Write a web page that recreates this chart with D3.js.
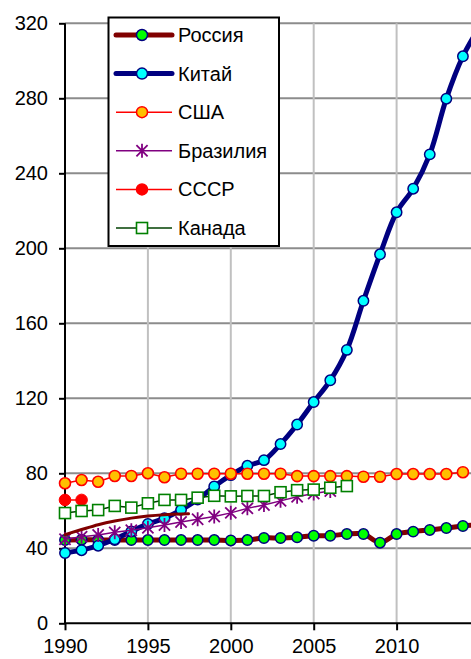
<!doctype html>
<html>
  <head>
    <meta charset="utf-8">
    <script src="https://cdn.jsdelivr.net/npm/d3@7/dist/d3.min.js"></script>
    <style>
      body { margin: 0; background: #fff; }
      svg { display: block; font-family: "Liberation Sans", Arial, sans-serif; }
    </style>
  </head>
  <body>
    <svg id="chart" width="471" height="659"></svg>

    <script>
      // values
      var years = d3.range(1990, 2016);
      var russia = [44.4, 44.6, 44.4, 44.4, 44.4, 44.4, 44.4, 44.4, 44.4, 44.4, 44.2, 44.4, 45.5, 45.5, 45.9, 46.7,
                    46.7, 47.6, 47.6, 43.0, 47.6, 48.9, 49.8, 50.8, 51.9, 52.5];
      var china = [37.5, 39, 41.4, 44.8, 49, 53, 56, 60.5, 66, 73, 79, 84, 87, 95.6, 106, 118,
                   129.6, 145.8, 172, 196.8, 219.2, 231.8, 250.1, 279.8, 302.4, 318];
      var usa = [74.7, 76.4, 75.5, 78.6, 78.6, 80, 77.9, 79.8, 79.8, 79.8, 79.8, 79.8, 79.8, 79.8, 78.5, 78.5,
                 78.5, 78.5, 78.2, 78.2, 79.6, 79.6, 79.6, 79.6, 80.6];
      var brazil = [44.8, 46.2, 47.1, 48.5, 49.6, 50.9, 52.4, 54, 55.5, 57, 58.9, 61.3, 63.1, 65.3, 67.5, 69.2, 70.5];
      var ussr = [65.8, 65.8];
      var canada = [58.8, 59.9, 60.4, 62.6, 61.7, 64, 65.8, 65.8, 67, 68, 67.7, 67.9, 67.9, 69.9, 71, 71.3, 72.3, 73.2];
      // unlabelled smooth curve (no markers)
      var trendYears = [1990, 1991, 1992, 1993, 1994, 1995, 1996, 1997, 1997.45];
      var trend = [47.3, 50, 52.6, 54.6, 56.1, 57.2, 57.9, 58.3, 58.4];

      var yTicks = [0, 40, 80, 120, 160, 200, 240, 280, 320];
      var xTicks = [1990, 1995, 2000, 2005, 2010];
      var xGrid = [1995, 2000, 2005, 2010, 2015];

      var names = ["Россия", "Китай", "США", "Бразилия", "СССР", "Канада"];

      var svg = d3.select("#chart");
      var plotLeft = 65, plotTop = 23.3, plotBottom = 623.3;

      var x = d3.scaleLinear().domain([1990, 2015]).range([plotLeft, plotLeft + 25 * 16.58]);
      var y = d3.scaleLinear().domain([0, 320]).range([plotBottom, plotTop]);

      // gridlines
      svg.append("g").selectAll("line")
        .data(yTicks.slice(1))
        .enter().append("line")
          .attr("x1", plotLeft).attr("x2", 471)
          .attr("y1", d => y(d)).attr("y2", d => y(d))
          .attr("stroke", "#8c8c8c").attr("stroke-width", 2);
      svg.append("g").selectAll("line")
        .data(xGrid)
        .enter().append("line")
          .attr("x1", d => x(d)).attr("x2", d => x(d))
          .attr("y1", plotTop).attr("y2", plotBottom)
          .attr("stroke", "#c0c0c0").attr("stroke-width", 2);

      // axes
      var yAxis = svg.append("g")
        .attr("transform", "translate(" + plotLeft + ",0)")
        .call(d3.axisLeft(y).tickValues(yTicks).tickSize(6).tickPadding(11));
      var xAxis = svg.append("g")
        .attr("transform", "translate(0," + plotBottom + ")")
        .call(d3.axisBottom(x).tickValues(xTicks).tickSize(7).tickPadding(9).tickFormat(d3.format("d")));
      [yAxis, xAxis].forEach(function(a) {
        a.select(".domain").attr("stroke", "#000").attr("stroke-width", 2);
        a.selectAll(".tick line").attr("stroke", "#000").attr("stroke-width", 2);
        a.selectAll("text").attr("font-size", 20).attr("fill", "#000")
          .attr("font-family", "'Liberation Sans', Arial, sans-serif");
      });
      yAxis.select(".domain").attr("d", "M0," + plotBottom + "V" + plotTop);
      xAxis.select(".domain").attr("d", "M" + plotLeft + ",0H471");

      var plot = svg.append("g");

      function lineFor(xs, curve) {
        return d3.line().x((d, i) => x(xs[i])).y(d => y(d)).curve(curve || d3.curveLinear);
      }
      function drawLine(vals, xs, color, w, curve) {
        plot.append("path")
          .attr("d", lineFor(xs, curve)(vals))
          .attr("fill", "none").attr("stroke", color).attr("stroke-width", w)
          .attr("stroke-linejoin", "round").attr("stroke-linecap", "round");
      }
      function circles(vals, xs, fill, edge, r, ew) {
        plot.append("g").selectAll("circle")
          .data(vals).enter().append("circle")
            .attr("cx", (d, i) => x(xs[i])).attr("cy", d => y(d))
            .attr("r", r).attr("fill", fill).attr("stroke", edge).attr("stroke-width", ew);
      }
      function star(g, cx, cy, s, color) {
        g.append("path")
          .attr("d", "M" + cx + "," + (cy - s) + "V" + (cy + s) +
                     "M" + (cx - s * 0.8) + "," + (cy - s * 0.8) + "L" + (cx + s * 0.8) + "," + (cy + s * 0.8) +
                     "M" + (cx - s * 0.8) + "," + (cy + s * 0.8) + "L" + (cx + s * 0.8) + "," + (cy - s * 0.8))
          .attr("stroke", color).attr("stroke-width", 1.8).attr("fill", "none");
      }
      function squares(vals, xs) {
        plot.append("g").selectAll("rect")
          .data(vals).enter().append("rect")
            .attr("x", (d, i) => x(xs[i]) - 5.5).attr("y", d => y(d) - 5.5)
            .attr("width", 11).attr("height", 11)
            .attr("fill", "#fff").attr("stroke", "#008000").attr("stroke-width", 1.6);
      }

      var smooth = d3.curveCatmullRom.alpha(0.5);

      // Россия
      drawLine(russia, years, "#800000", 5, smooth);
      circles(russia, years, "#00ff00", "#000080", 5.2, 1.5);
      // Китай
      drawLine(china, years, "#000080", 5, smooth);
      circles(china, years, "#00ffff", "#000080", 5.2, 1.5);
      // США
      drawLine(usa, years, "#ff0000", 1.5);
      circles(usa, years, "#ffc000", "#ff0000", 5.5, 1.6);
      // Бразилия
      drawLine(brazil, years, "#800080", 1.5);
      var bz = plot.append("g");
      brazil.forEach((d, i) => star(bz, x(years[i]), y(d), 7, "#800080"));
      // СССР
      drawLine(ussr, years, "#ff0000", 1.5);
      circles(ussr, years, "#ff0000", "#ff0000", 5.8, 1);
      // Канада
      drawLine(canada, years, "#004000", 1.5);
      squares(canada, years);
      // trend curve
      drawLine(trend, trendYears, "#800000", 3, d3.curveMonotoneX);

      // legend
      var lg = svg.append("g");
      lg.append("rect")
        .attr("x", 108.5).attr("y", 17.5).attr("width", 170.5).attr("height", 228.5)
        .attr("fill", "#fff").attr("stroke", "#000").attr("stroke-width", 2);
      var styles = [
        { line: "#800000", w: 5, kind: "circle", fill: "#00ff00", edge: "#000080" },
        { line: "#000080", w: 5, kind: "circle", fill: "#00ffff", edge: "#000080" },
        { line: "#ff0000", w: 1.5, kind: "circle", fill: "#ffc000", edge: "#ff0000" },
        { line: "#800080", w: 1.5, kind: "star" },
        { line: "#ff0000", w: 1.5, kind: "circle", fill: "#ff0000", edge: "#ff0000" },
        { line: "#004000", w: 1.5, kind: "square" }
      ];
      names.forEach(function(name, i) {
        var cy = 35 + i * 38.6;
        var s = styles[i];
        lg.append("line")
          .attr("x1", 116).attr("x2", 172).attr("y1", cy).attr("y2", cy)
          .attr("stroke", s.line).attr("stroke-width", s.w)
          .attr("stroke-linecap", s.w > 2 ? "round" : "butt");
        if (s.kind === "circle") {
          lg.append("circle").attr("cx", 142).attr("cy", cy).attr("r", 5.5)
            .attr("fill", s.fill).attr("stroke", s.edge).attr("stroke-width", 1.5);
        } else if (s.kind === "star") {
          star(lg, 142, cy, 7, "#800080");
        } else {
          lg.append("rect").attr("x", 136.5).attr("y", cy - 5.5).attr("width", 11).attr("height", 11)
            .attr("fill", "#fff").attr("stroke", "#008000").attr("stroke-width", 1.6);
        }
        lg.append("text")
          .attr("x", 178).attr("y", cy + 7)
          .attr("font-size", 20).attr("fill", "#000")
          .text(name);
      });
    </script>
  </body>
</html>
